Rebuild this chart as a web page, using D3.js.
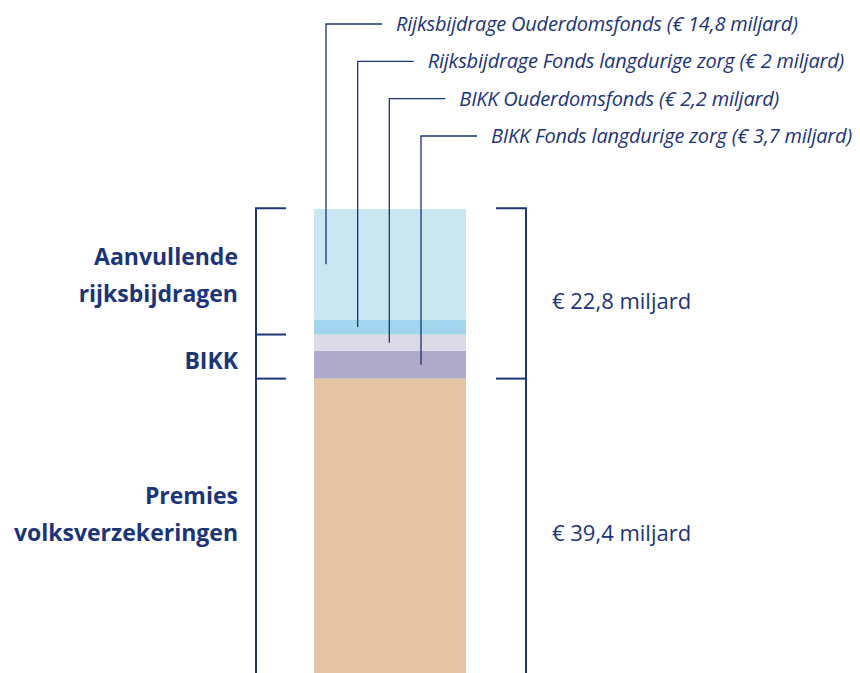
<!DOCTYPE html>
<html>
<head>
<meta charset="utf-8">
<script src="https://cdn.jsdelivr.net/npm/d3@7"></script>
<style>
  html, body { margin: 0; padding: 0; background: #fff; }
  svg { display: block; }
</style>
</head>
<body>
<div id="chart"></div>
<script>
// stacked from the bottom up
const segmentNames = [
  'Premies volksverzekeringen',
  'BIKK Fonds langdurige zorg',
  'BIKK Ouderdomsfonds',
  'Rijksbijdrage Fonds langdurige zorg',
  'Rijksbijdrage Ouderdomsfonds'
];
const segmentValues = [39.4, 3.7, 2.2, 2, 14.8];
const segmentColors = ['#e7c5a4', '#afaac8', '#dcdae7', '#a2d6ef', '#c9e7f1'];

// segments that get a leader label, top label first
const calloutNames = [
  'Rijksbijdrage Ouderdomsfonds',
  'Rijksbijdrage Fonds langdurige zorg',
  'BIKK Ouderdomsfonds',
  'BIKK Fonds langdurige zorg'
];

// left brackets: [from, to] in stack units
const groupLabels = [['Premies', 'volksverzekeringen'], ['BIKK'], ['Aanvullende', 'rijksbijdragen']];
const groupRanges = [[0, 39.4], [39.4, 45.3], [45.3, 62.2]];

// right brackets
const totalValues = [39.4, 22.8];
const totalRanges = [[0, 39.4], [39.4, 62.2]];

const W = 860, H = 673;
const navy = '#1c3478';
const fmt = v => '€ ' + String(v).replace('.', ',') + ' miljard';

const svg = d3.select('#chart').append('svg')
  .attr('width', W).attr('height', H)
  .attr('font-family', '"Open Sans", Lato, sans-serif');

// stack data
let acc = 0;
const stack = segmentValues.map((v, i) => {
  const d = { name: segmentNames[i], value: v, y0: acc, y1: acc + v, color: segmentColors[i] };
  acc += v;
  return d;
});
const total = acc;

const y = d3.scaleLinear().domain([0, total]).range([H, 209]);
const x = d3.scaleBand().domain(['bar']).range([314, 466]);

svg.selectAll('rect.seg')
  .data(stack)
  .join('rect')
  .attr('class', 'seg')
  .attr('x', x('bar'))
  .attr('width', x.bandwidth())
  .attr('y', d => y(d.y1))
  .attr('height', d => y(d.y0) - y(d.y1))
  .attr('fill', d => d.color);

// leader lines + labels
const leaderX = d3.scalePoint().domain(calloutNames).range([326, 421]);
const labelY = d3.scalePoint().domain(calloutNames).range([24, 136]);

const callouts = calloutNames.map(n => stack.find(s => s.name === n));

const cg = svg.append('g').attr('class', 'callouts');
cg.selectAll('path')
  .data(callouts)
  .join('path')
  .attr('fill', 'none')
  .attr('stroke', navy)
  .attr('stroke-width', 1.3)
  .attr('d', d => {
    const lx = leaderX(d.name), ly = labelY(d.name);
    const ym = y((d.y0 + d.y1) / 2);
    return `M${lx},${ym}V${ly}H${lx + 56}`;
  });

cg.selectAll('text')
  .data(callouts)
  .join('text')
  .attr('x', d => leaderX(d.name) + 70)
  .attr('y', d => labelY(d.name))
  .attr('dy', '0.35em')
  .attr('font-style', 'italic')
  .attr('font-size', 20)
  .attr('letter-spacing', -0.2)
  .attr('fill', navy)
  .text(d => `${d.name} (${fmt(d.value)})`);

// left bracket
const lb = svg.append('g').attr('class', 'left-bracket')
  .attr('stroke', navy).attr('stroke-width', 2).attr('fill', 'none');
lb.append('line')
  .attr('x1', 256).attr('x2', 256)
  .attr('y1', y(total)).attr('y2', H);
const leftTicks = Array.from(new Set(groupRanges.map(r => r[1]))).filter(v => v > 0);
lb.selectAll('line.tick')
  .data(leftTicks)
  .join('line')
  .attr('class', 'tick')
  .attr('x1', 255).attr('x2', 286)
  .attr('y1', d => y(d)).attr('y2', d => y(d));

const gl = svg.append('g').attr('class', 'group-labels');
gl.selectAll('text')
  .data(groupLabels.map((lines, i) => ({ lines, range: groupRanges[i] })))
  .join('text')
  .attr('text-anchor', 'end')
  .attr('font-weight', 'bold')
  .attr('font-size', 23)
  .attr('fill', navy)
  .each(function(d) {
    const mid = d.lines.length > 1 && d.lines[0] === 'Premies'
      ? 514 : (y(d.range[0]) + y(d.range[1])) / 2 + 4;
    const lh = 37.5;
    const top = mid - (d.lines.length - 1) * lh / 2;
    d3.select(this).selectAll('tspan')
      .data(d.lines)
      .join('tspan')
      .attr('x', 238)
      .attr('y', (s, j) => top + j * lh)
      .attr('dy', '0.36em')
      .text(s => s);
  });

// right bracket
const rb = svg.append('g').attr('class', 'right-bracket')
  .attr('stroke', navy).attr('stroke-width', 2).attr('fill', 'none');
rb.append('line')
  .attr('x1', 526).attr('x2', 526)
  .attr('y1', y(total)).attr('y2', H);
const rightTicks = Array.from(new Set(totalRanges.map(r => r[1]))).filter(v => v > 0);
rb.selectAll('line.tick')
  .data(rightTicks)
  .join('line')
  .attr('class', 'tick')
  .attr('x1', 496).attr('x2', 527)
  .attr('y1', d => y(d)).attr('y2', d => y(d));

svg.append('g').attr('class', 'totals')
  .selectAll('text')
  .data(totalValues.map((v, i) => ({ v, range: totalRanges[i] })))
  .join('text')
  .attr('x', 552)
  .attr('y', (d, i) => i === 0 ? 533 : (y(d.range[0]) + y(d.range[1])) / 2 + 8)
  .attr('dy', '0.35em')
  .attr('font-size', 22)
  .attr('fill', navy)
  .text(d => fmt(d.v));
</script>
</body>
</html>
